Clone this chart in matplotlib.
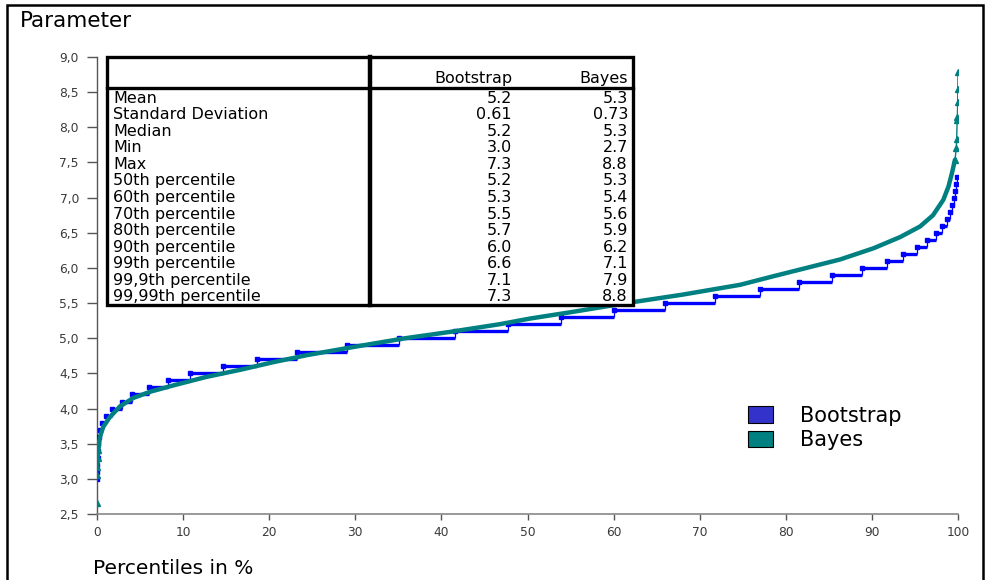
import matplotlib
matplotlib.use("Agg")
import matplotlib.pyplot as plt
from matplotlib.patches import Rectangle, Patch
from matplotlib.ticker import FixedLocator, FuncFormatter
from matplotlib.lines import Line2D

# ---------------- data ----------------
boot_levels = [3.0, 3.1, 3.2, 3.3, 3.4, 3.5, 3.6, 3.7, 3.8, 3.9,
               4.0, 4.1, 4.2, 4.3, 4.4, 4.5, 4.6, 4.7, 4.8, 4.9,
               5.0, 5.1, 5.2, 5.3, 5.4, 5.5, 5.6, 5.7, 5.8, 5.9,
               6.0, 6.1, 6.2, 6.3, 6.4, 6.5, 6.6, 6.7, 6.8, 6.9,
               7.0, 7.1, 7.2, 7.3]
boot_starts = [0.0, 0.02, 0.04, 0.07, 0.10, 0.14, 0.20, 0.30, 0.60, 1.05,
               1.7, 2.9, 4.1, 6.0, 8.2, 10.8, 14.6, 18.6, 23.2, 29.0,
               35.1, 41.6, 47.7, 53.9, 60.0, 66.0, 71.8, 77.0, 81.5, 85.4,
               88.8, 91.8, 93.6, 95.2, 96.4, 97.4, 98.1, 98.7, 99.1, 99.35,
               99.55, 99.7, 99.8, 99.9]
boot_end = 100.0

bayes_pct = [0.0, 0.01, 0.03, 0.08, 0.15, 0.35, 0.73, 1.5, 2.67, 4.2,
             6.2, 8.9, 12.7, 16.6, 20.5, 24.4, 30.0, 35.8, 41.0, 46.8,
             50.3, 55.0, 61.5, 68.0, 74.7, 78.5, 82.4, 86.3, 90.2, 93.3,
             95.6, 97.1, 98.3, 98.9, 99.3, 99.65, 99.8, 99.85, 99.9, 99.93,
             99.96, 99.98, 100.0]
bayes_val = [2.66, 3.05, 3.17, 3.30, 3.41, 3.60, 3.74, 3.88, 4.03, 4.15,
             4.24, 4.33, 4.45, 4.55, 4.66, 4.76, 4.88, 5.00, 5.09, 5.20,
             5.28, 5.37, 5.50, 5.62, 5.76, 5.88, 6.00, 6.12, 6.28, 6.44,
             6.59, 6.75, 6.97, 7.16, 7.35, 7.54, 7.70, 7.84, 8.10, 8.15,
             8.36, 8.54, 8.78]

x_ticks = [0, 10, 20, 30, 40, 50, 60, 70, 80, 90, 100]
y_ticks = [2.5, 3.0, 3.5, 4.0, 4.5, 5.0, 5.5, 6.0, 6.5, 7.0, 7.5, 8.0, 8.5, 9.0]

table_cols = ["Bootstrap", "Bayes"]
stat_names = ["Mean", "Standard Deviation", "Median", "Min", "Max",
              "50th percentile", "60th percentile", "70th percentile",
              "80th percentile", "90th percentile", "99th percentile",
              "99,9th percentile", "99,99th percentile"]
boot_stats = ["5.2", "0.61", "5.2", "3.0", "7.3", "5.2", "5.3", "5.5",
              "5.7", "6.0", "6.6", "7.1", "7.3"]
bayes_stats = ["5.3", "0.73", "5.3", "2.7", "8.8", "5.3", "5.4", "5.6",
               "5.9", "6.2", "7.1", "7.9", "8.8"]

series_names = ["Bootstrap", "Bayes"]
boot_color = "#0000FF"
boot_legend_color = "#3333CC"
bayes_color = "#008080"

# ---------------- figure ----------------
W, H = 987, 580
fig = plt.figure(figsize=(W / 100, H / 100), dpi=100)
plt.rcParams['font.family'] = ['DejaVu Sans']


def fx(px):
    return px / W


def fy(py):
    return 1 - py / H


# outer frame
fig.patches.append(Rectangle((fx(7), fy(600)), fx(983) - fx(7), fy(5) - fy(600),
                             transform=fig.transFigure, fill=False,
                             edgecolor='black', linewidth=1.8, zorder=0))

ax = fig.add_axes([fx(97), fy(514), fx(958) - fx(97), fy(57) - fy(514)])
ax.set_xlim(0, 100)
ax.set_ylim(2.5, 9.0)

# bootstrap step curve
ends = boot_starts[1:] + [boot_end]
ax.hlines(boot_levels, boot_starts, ends, colors=boot_color, linewidth=2.4, zorder=3)
ax.vlines(boot_starts[1:], boot_levels[:-1], boot_levels[1:], colors=boot_color,
          linewidth=0.9, zorder=3)
ax.plot(boot_starts, boot_levels, linestyle='none', marker='s', markersize=2.8,
        color=boot_color, zorder=3)

# bayes curve: thin connecting line, triangles on the sparse tails, thick dense body
ax.plot(bayes_pct, bayes_val, color=bayes_color, linewidth=1.0, zorder=4)
tail = [(p, v) for p, v in zip(bayes_pct, bayes_val) if p < 0.3 or p > 99.6]
ax.plot([t[0] for t in tail], [t[1] for t in tail], linestyle='none', marker='^',
        markersize=4, color=bayes_color, zorder=4)
body = [(p, v) for p, v in zip(bayes_pct, bayes_val) if 0.02 <= p <= 99.7]
ax.plot([b[0] for b in body], [b[1] for b in body], color=bayes_color,
        linewidth=3.2, solid_capstyle='round', solid_joinstyle='round', zorder=4)

# axes styling
for s in ['top', 'right']:
    ax.spines[s].set_visible(False)
ax.spines['left'].set_color('#555555')
ax.spines['bottom'].set_color('#888888')
ax.spines['left'].set_linewidth(1.0)
ax.spines['bottom'].set_linewidth(1.2)
ax.xaxis.set_major_locator(FixedLocator(x_ticks))
ax.yaxis.set_major_locator(FixedLocator(y_ticks))
ax.yaxis.set_major_formatter(FuncFormatter(lambda v, p: f"{v:.1f}".replace('.', ',')))
ax.tick_params(axis='y', direction='out', length=7, width=1, color='#555555',
               labelsize=8.8, labelcolor='#3a3a3a', pad=6)
ax.tick_params(axis='x', direction='out', length=4.5, width=1, color='#555555',
               labelsize=8.8, labelcolor='#3a3a3a', pad=4)

# axis titles
fig.text(fx(20), fy(21), "Parameter", fontsize=15.5, ha='left', va='center', color='black')
fig.text(fx(93), fy(569), "Percentiles in %", fontsize=14.5, ha='left', va='center', color='black')

# ---------------- table ----------------
tl, tr, tt, tb = 107, 633, 57, 305
div_x = 370
head_b = 88
fig.patches.append(Rectangle((fx(tl), fy(tb)), fx(tr) - fx(tl), fy(tt) - fy(tb),
                             transform=fig.transFigure, facecolor='white',
                             edgecolor='black', linewidth=2.4, zorder=5))
fig.lines.append(Line2D([fx(tl), fx(tr)], [fy(head_b), fy(head_b)],
                        transform=fig.transFigure, color='black', linewidth=2.4, zorder=6))
fig.lines.append(Line2D([fx(div_x), fx(div_x)], [fy(tt), fy(tb)],
                        transform=fig.transFigure, color='black', linewidth=3.2, zorder=6))
col_right = [512, 628]
for cname, xr in zip(table_cols, col_right):
    fig.text(fx(xr), fy(79), cname, fontsize=11.5, ha='right', va='center', zorder=7)
row_h = (tb - head_b - 2) / len(stat_names)
for i, name in enumerate(stat_names):
    yc = head_b + 2 + row_h * (i + 0.5)
    fig.text(fx(113), fy(yc), name, fontsize=11.5, ha='left', va='center', zorder=7)
    fig.text(fx(col_right[0]), fy(yc), boot_stats[i], fontsize=11.5, ha='right', va='center', zorder=7)
    fig.text(fx(col_right[1]), fy(yc), bayes_stats[i], fontsize=11.5, ha='right', va='center', zorder=7)

# ---------------- legend ----------------
handles = [Patch(facecolor=boot_legend_color, edgecolor='black', linewidth=0.8),
           Patch(facecolor=bayes_color, edgecolor='black', linewidth=0.8)]
fig.legend(handles, series_names, loc='upper left',
           bbox_to_anchor=(fx(748), fy(406)), frameon=False, fontsize=15,
           handlelength=1.2, handleheight=0.85, handletextpad=1.3,
           labelspacing=0.2, borderaxespad=0, borderpad=0)

fig.savefig("out.png", dpi=100)
